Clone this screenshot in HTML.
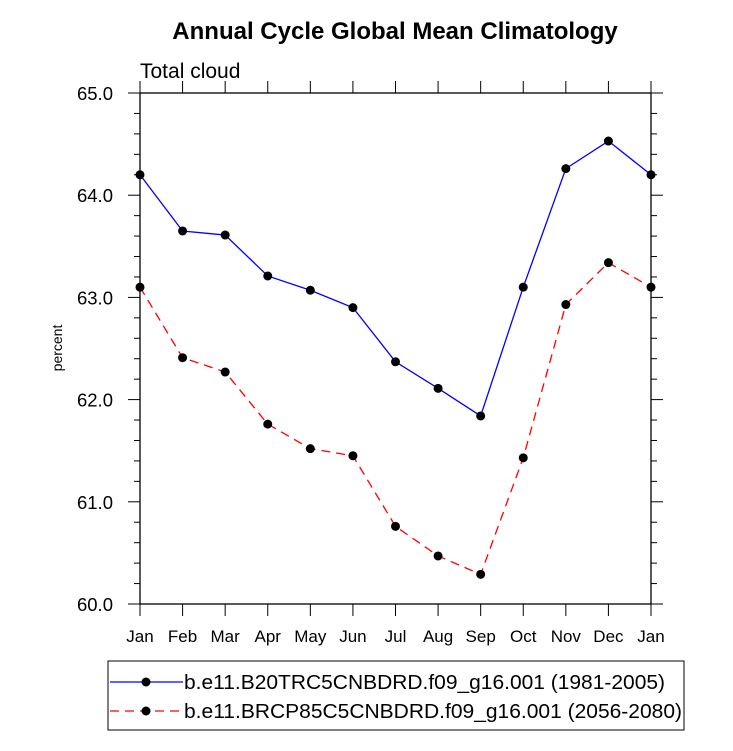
<!DOCTYPE html>
<html><head><meta charset="utf-8"><style>
body{margin:0;background:#fff;}
svg{display:block;font-family:"Liberation Sans",Helvetica,Arial,sans-serif;}
</style></head><body>
<svg id="chart" width="733" height="751">
<text x="395" y="39" text-anchor="middle" font-size="24" font-weight="bold">Annual Cycle Global Mean Climatology</text>
<text x="140" y="78" font-size="21">Total cloud</text>
<text transform="translate(62,348) rotate(-90)" text-anchor="middle" font-size="14">percent</text>
<g id="axes"></g><g id="series"></g>
<rect x="108" y="661" width="576" height="69" fill="none" stroke="#000" stroke-width="1"/>
<g>
<line x1="110" y1="682" x2="183" y2="682" stroke="#0000ff" stroke-width="1.3"/>
<circle cx="146" cy="682" r="4.5" fill="#000"/>
<text x="184" y="689" font-size="20.5" textLength="481" lengthAdjust="spacingAndGlyphs">b.e11.B20TRC5CNBDRD.f09_g16.001 (1981-2005)</text></g>
<g>
<line x1="110" y1="711" x2="183" y2="711" stroke="#ff0000" stroke-width="1.3" stroke-dasharray="9,6"/>
<circle cx="146" cy="711" r="4.5" fill="#000"/>
<text x="184" y="718" font-size="20.5" textLength="498" lengthAdjust="spacingAndGlyphs">b.e11.BRCP85C5CNBDRD.f09_g16.001 (2056-2080)</text></g>
</svg>
<script>
const months=["Jan","Feb","Mar","Apr","May","Jun","Jul","Aug","Sep","Oct","Nov","Dec","Jan"];
const histValues=[64.20,63.65,63.61,63.21,63.07,62.90,62.37,62.11,61.84,63.10,64.26,64.53,64.20];
const rcpValues=[63.10,62.41,62.27,61.76,61.52,61.45,60.76,60.47,60.29,61.43,62.93,63.34,63.10];
const yTicks=[60,61,62,63,64,65];
const L=140,R=651,T=93,B=604,ymin=60,ymax=65;
const NS="http://www.w3.org/2000/svg";
function xs(i){return L+(R-L)*i/(months.length-1);}
function ys(v){return B-(v-ymin)/(ymax-ymin)*(B-T);}
function mk(t,a,p){const e=document.createElementNS(NS,t);for(const k in a)e.setAttribute(k,a[k]);p.appendChild(e);return e;}
const ax=document.getElementById('axes');
const frame=mk('rect',{x:L,y:T,width:R-L,height:B-T,fill:'none',stroke:'#000','stroke-width':1.3},ax);


months.forEach((m,i)=>{const x=xs(i);
mk('line',{x1:x,y1:B,x2:x,y2:B+12,stroke:'#000','stroke-width':1},ax);
mk('line',{x1:x,y1:T,x2:x,y2:T-12,stroke:'#000','stroke-width':1},ax);
const t=mk('text',{x:x,y:B+38,'text-anchor':'middle','font-size':17},ax);t.textContent=m;

});
for(let v=ymin;v<=ymax+1e-9;v+=0.2){const y=ys(v);const major=Math.abs(v-Math.round(v))<1e-6;const len=major?12:6;
mk('line',{x1:L-len,y1:y,x2:L,y2:y,stroke:'#000','stroke-width':1},ax);
mk('line',{x1:R,y1:y,x2:R+len,y2:y,stroke:'#000','stroke-width':1},ax);}
yTicks.forEach(v=>{const t=mk('text',{x:L-27,y:ys(v)+7,'text-anchor':'end','font-size':18.5},ax);t.textContent=v.toFixed(1);

});
const sg=document.getElementById('series');
function draw(vals,color,dash,name){
const g=mk('g',{},sg);


const a={points:vals.map((v,i)=>xs(i)+','+ys(v)).join(' '),fill:'none',stroke:color,'stroke-width':1.3};
if(dash)a['stroke-dasharray']=dash;mk('polyline',a,g);
vals.forEach((v,i)=>{const c=mk('circle',{cx:xs(i),cy:ys(v),r:4.5,fill:'#000'},g);

});}
draw(histValues,'#0000ff',null,'series-historical');
draw(rcpValues,'#ff0000','9,6','series-rcp85');
</script>
</body></html>
